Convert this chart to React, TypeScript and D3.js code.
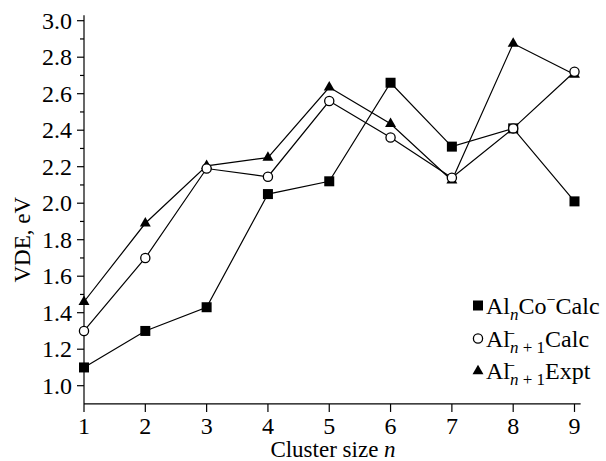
import * as d3 from 'd3'

const clusterSizes = [1, 2, 3, 4, 5, 6, 7, 8, 9]
const alnCoCalc = [1.1, 1.3, 1.43, 2.05, 2.12, 2.66, 2.31, 2.41, 2.01]
const alCalc = [1.3, 1.7, 2.19, 2.145, 2.56, 2.36, 2.14, 2.41, 2.72]
const alExpt = [1.46, 1.89, 2.205, 2.25, 2.635, 2.435, 2.125, 2.875, 2.705]
const yMajor = [1.0, 1.2, 1.4, 1.6, 1.8, 2.0, 2.2, 2.4, 2.6, 2.8, 3.0]
const yMinor = [1.1, 1.3, 1.5, 1.7, 1.9, 2.1, 2.3, 2.5, 2.7, 2.9]

const W = 606
const H = 461
const FONT = '"Liberation Serif", "Times New Roman", serif'

export default function App() {
  const x = d3.scaleLinear().domain([1, 9]).range([84, 574.5])
  const y = d3.scaleLinear().domain([1, 3]).range([385.7, 20.7])
  const fmt = d3.format('.1f')

  const line = d3
    .line<number>()
    .x((_, i) => x(clusterSizes[i]))
    .y((d) => y(d))

  const sq = 10
  const tri = d3.symbol(d3.symbolTriangle, 52)() ?? undefined

  const x0 = x(1)
  const yBase = y(0.9)
  const legendX = 478
  const legendY = [305.5, 338.5, 371]

  return (
    <svg width={W} height={H} style={{ position: 'absolute', left: 0, top: 0, background: '#fff' }}>
      <g fontFamily={FONT} fill="#000">
        {/* axes */}
        <line x1={x0} x2={x0} y1={yBase} y2={y(3.03)} stroke="#000" strokeWidth={1.2} />
        <line x1={x0} x2={x(9.1)} y1={yBase} y2={yBase} stroke="#000" strokeWidth={1.2} />
        {yMajor.map((v) => (
          <g key={'ym' + v}>
            <line x1={x0 - 7} x2={x0} y1={y(v)} y2={y(v)} stroke="#000" strokeWidth={1.2} />
            <text x={x0 - 12} y={y(v)} dy="0.34em" textAnchor="end" fontSize={24}>
              {fmt(v)}
            </text>
          </g>
        ))}
        {yMinor.map((v) => (
          <line key={'yn' + v} x1={x0 - 4} x2={x0} y1={y(v)} y2={y(v)} stroke="#000" strokeWidth={1.2} />
        ))}
        {clusterSizes.map((n) => (
          <g key={'x' + n}>
            <line x1={x(n)} x2={x(n)} y1={yBase} y2={yBase + 8} stroke="#000" strokeWidth={1.2} />
            <text x={x(n)} y={434} textAnchor="middle" fontSize={24}>
              {n}
            </text>
          </g>
        ))}

        {/* series */}
        <path d={line(alnCoCalc) ?? undefined} fill="none" stroke="#000" strokeWidth={1.2} />
        <path d={line(alExpt) ?? undefined} fill="none" stroke="#000" strokeWidth={1.2} />
        <path d={line(alCalc) ?? undefined} fill="none" stroke="#000" strokeWidth={1.2} />

        {alnCoCalc.map((v, i) => (
          <rect key={'s' + i} x={x(clusterSizes[i]) - sq / 2} y={y(v) - sq / 2} width={sq} height={sq} />
        ))}
        {alExpt.map((v, i) => (
          <path key={'t' + i} d={tri} transform={`translate(${x(clusterSizes[i])},${y(v)})`} />
        ))}
        {alCalc.map((v, i) => (
          <circle key={'c' + i} cx={x(clusterSizes[i])} cy={y(v)} r={4.6} fill="#fff" stroke="#000" strokeWidth={1.3} />
        ))}

        {/* titles */}
        <text transform={`translate(30,${y(1.8)}) rotate(-90)`} textAnchor="middle" fontSize={23}>
          VDE, eV
        </text>
        <text x={333} y={457} textAnchor="middle" fontSize={23}>
          Cluster size <tspan fontStyle="italic">n</tspan>
        </text>

        {/* legend */}
        <rect x={legendX - sq / 2} y={legendY[0] - sq / 2} width={sq} height={sq} />
        <text x={486} y={legendY[0] + 8} fontSize={24}>
          Al
          <tspan fontStyle="italic" fontSize={17} dy={6}>n</tspan>
          <tspan dy={-6}>Co</tspan>
          <tspan fontSize={16} dy={-9}>−</tspan>
          <tspan dy={9}>Calc</tspan>
        </text>

        <circle cx={legendX} cy={legendY[1]} r={4.6} fill="#fff" stroke="#000" strokeWidth={1.3} />
        <text x={486} y={legendY[1] + 8} fontSize={24}>
          Al
          <tspan fontSize={17} dy={6}>
            <tspan fontStyle="italic">n</tspan> + 1
          </tspan>
          <tspan dy={-6}>Calc</tspan>
        </text>
        <text x={506} y={legendY[1]} fontSize={16}>−</text>

        <path d={tri} transform={`translate(${legendX},${legendY[2]})`} />
        <text x={486} y={legendY[2] + 8} fontSize={24}>
          Al
          <tspan fontSize={17} dy={6}>
            <tspan fontStyle="italic">n</tspan> + 1
          </tspan>
          <tspan dy={-6}>Expt</tspan>
        </text>
        <text x={506} y={legendY[2]} fontSize={16}>−</text>
      </g>
    </svg>
  )
}
